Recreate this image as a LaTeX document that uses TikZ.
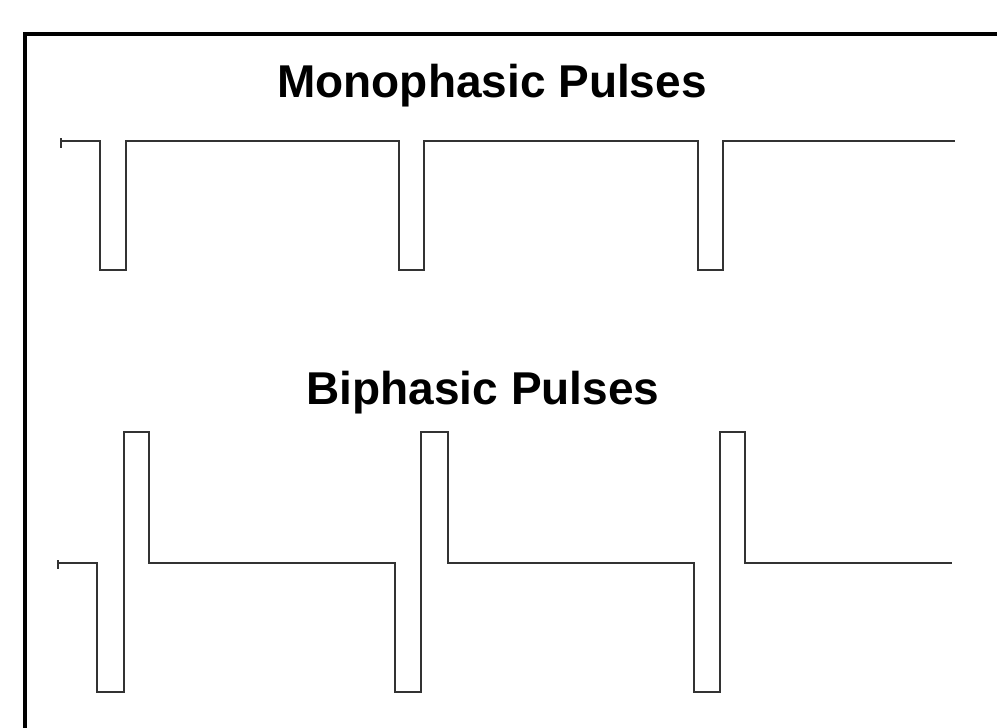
\documentclass[tikz,border=0pt]{standalone}
\usepackage{fontspec}
\setmainfont{Liberation Sans}
\begin{document}
\begin{tikzpicture}[x=1pt,y=-1pt,
  wave/.style={draw=black!80,line width=1.6pt,line join=miter},
  framestyle/.style={draw=black,line width=4.5pt},
  title/.style={anchor=base,inner sep=0pt,font=\fontsize{46}{50}\selectfont\bfseries}]
\useasboundingbox (0,0) rectangle (997,728);
\fill[white] (0,0) rectangle (997,728);
% frame
\draw[framestyle] (25,730) -- (25,34) -- (999,34);
% titles
\node[title] (mono) at (492,97) {Monophasic Pulses};
\node[title] (bi) at (483,404) {Biphasic Pulses};
% monophasic
\draw[wave] (61,138) -- (61,148);
\draw[wave] (61,141) -- (100,141) -- (100,270) -- (126,270) -- (126,141)
  -- (399,141) -- (399,270) -- (424,270) -- (424,141)
  -- (698,141) -- (698,270) -- (723,270) -- (723,141) -- (955,141);
% biphasic
\draw[wave] (58,560) -- (58,569);
\draw[wave] (58,563) -- (97,563) -- (97,692) -- (124,692) -- (124,432) -- (149,432) -- (149,563)
  -- (395,563) -- (395,692) -- (421,692) -- (421,432) -- (448,432) -- (448,563)
  -- (694,563) -- (694,692) -- (720,692) -- (720,432) -- (745,432) -- (745,563) -- (952,563);
\end{tikzpicture}
\end{document}
